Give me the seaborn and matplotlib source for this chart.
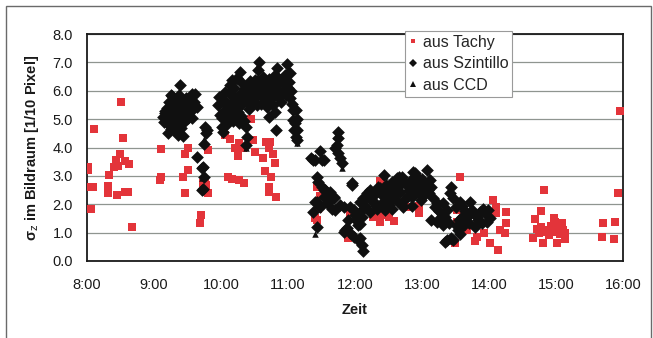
import matplotlib
matplotlib.use("Agg")
import matplotlib.pyplot as plt
from matplotlib.lines import Line2D
from matplotlib.patches import Rectangle
import seaborn as sns
import pandas as pd

# ---------------- data (time in decimal hours, sigma in 1/10 pixel) ----------------
tachy_t = [8.01, 8.02, 8.05, 8.09, 8.06, 8.10, 8.31, 8.32, 8.33, 8.41, 8.43, 8.45, 8.47, 8.49,
           8.51, 8.53, 8.56, 8.57, 8.61, 8.63, 8.67, 9.09, 9.11, 9.10, 9.44, 9.46, 9.47, 9.50,
           9.51, 9.69, 9.70, 9.76, 9.80, 9.80, 9.73, 9.78,
           10.06, 10.11, 10.17, 10.27, 10.34, 10.14, 10.21, 10.26, 10.27, 10.33, 10.45, 10.48,
           10.51, 10.63, 10.66, 10.67, 10.71, 10.71, 10.72, 10.73, 10.75, 10.78, 10.80, 10.82,
           11.43, 11.45, 11.43, 11.48, 11.40, 11.90, 11.93,
           12.27, 12.30, 12.37, 12.37, 12.45, 12.50, 12.58, 12.37, 12.80, 12.92, 12.95, 12.96,
           13.52, 13.52, 13.49, 13.57, 13.67, 13.79, 13.82, 13.92, 14.01, 14.06, 14.10, 14.11,
           14.13, 14.17, 14.24, 14.25, 14.26,
           14.66, 14.68, 14.78, 14.80, 14.82, 14.97, 14.99, 15.02, 15.09, 15.14,
           14.72, 14.75, 14.78, 14.82, 14.86, 14.90, 14.95, 15.00, 15.03, 15.06, 15.10, 15.13,
           14.92, 15.70, 15.69, 15.86, 15.88, 15.93, 15.95]
tachy_v = [3.20, 3.32, 2.62, 2.62, 1.84, 4.65, 2.64, 2.40, 3.02, 3.32, 3.56, 2.33, 3.35, 3.76,
           5.61, 4.32, 2.42, 3.52, 2.42, 3.42, 1.21, 2.86, 2.97, 3.94, 2.96, 3.77, 2.40, 4.00,
           3.20, 1.35, 1.61, 2.74, 2.38, 3.91, 2.74, 2.68,
           4.45, 2.97, 2.89, 2.85, 2.76, 4.30, 3.97, 3.71, 4.17, 4.00, 5.01, 4.26,
           3.85, 3.62, 3.17, 4.18, 4.00, 2.62, 2.42, 4.18, 2.97, 3.76, 3.44, 2.26,
           2.62, 1.85, 1.44, 2.30, 1.50, 0.80, 1.68,
           1.56, 1.68, 1.38, 1.62, 1.62, 1.55, 1.42, 2.82, 1.89, 2.38, 1.68, 1.95,
           1.80, 1.38, 0.62, 2.96, 1.09, 0.71, 0.86, 0.97, 0.65, 2.15, 1.68, 1.89,
           0.39, 1.09, 1.00, 1.35, 1.74,
           0.80, 1.48, 1.76, 0.65, 2.50, 1.50, 1.38, 0.62, 1.35, 0.76,
           1.12, 1.00, 1.19, 1.09, 1.03, 0.92, 1.12, 1.03, 1.19, 0.95, 1.09, 1.00,
           1.25, 1.35, 0.86, 0.76, 1.38, 2.40, 5.28]

szint_t = [9.39, 9.13, 9.15, 9.17, 9.19, 9.20, 9.21, 9.22, 9.23, 9.24, 9.25, 9.26, 9.27, 9.28,
           9.29, 9.30, 9.31, 9.32, 9.33, 9.34, 9.35, 9.36, 9.37, 9.38, 9.40, 9.41, 9.42, 9.43,
           9.44, 9.45, 9.47, 9.48, 9.50, 9.52, 9.55, 9.57, 9.60, 9.61, 9.64, 9.56, 9.25,
           9.16, 9.19, 9.22, 9.28, 9.33, 9.39, 9.46, 9.51, 9.54, 9.58,
           9.76, 9.79, 9.74, 9.64, 9.73, 9.74, 9.73, 9.77, 9.72, 9.72,
           9.97, 9.96, 9.99, 10.01, 10.03, 10.05, 10.06, 10.08, 10.10, 10.11, 10.13, 10.14,
           10.16, 10.17, 10.19, 10.20, 10.21, 10.23, 10.24, 10.26, 10.28, 10.29, 10.31, 10.32,
           10.34, 10.36, 10.38, 10.39, 10.37, 10.40, 10.42, 10.44, 10.45, 10.46, 10.48, 10.50,
           10.52, 10.53, 10.55, 10.57, 10.58, 10.60, 10.61, 10.62, 10.64, 10.66, 10.68, 10.69,
           10.71, 10.72, 10.74, 10.76, 10.77, 10.79, 10.81, 10.82, 10.83, 10.84, 10.86, 10.88,
           10.90, 10.93, 10.95, 10.97, 10.99, 11.01, 11.03, 11.03, 11.05, 11.08, 11.08, 11.09,
           11.12, 11.12, 11.13, 11.14, 11.13, 11.10, 11.06,
           10.02, 10.07, 10.12, 10.15, 10.18, 10.22, 10.27, 10.30, 10.35,
           10.41, 10.47, 10.51, 10.56, 10.59, 10.63, 10.67, 10.70, 10.73, 10.78, 10.80, 10.87,
           10.92, 10.04, 10.09, 10.25, 10.33, 10.43, 10.54, 10.65, 10.75, 10.85, 10.91, 10.96,
           11.00, 10.13, 10.49,
           11.34, 11.38, 11.40, 11.48, 11.50, 11.53, 11.74, 11.75, 11.73, 11.70, 11.75, 11.78,
           11.80, 11.43, 11.45, 11.50, 11.55, 11.60, 11.63, 11.53, 11.58, 11.43, 11.38, 11.43,
           11.48, 11.65, 11.70, 11.68, 11.78, 11.83, 11.53, 11.63, 11.68, 11.40, 11.95, 11.93,
           11.90, 11.88, 11.83, 11.93, 11.98, 12.05, 12.10, 12.12, 12.05, 12.00, 11.98, 11.85,
           12.07, 11.96,
           12.07, 12.07, 12.12, 12.15, 12.18, 12.22, 12.22, 12.25, 12.29, 12.30, 12.33, 12.35,
           12.37, 12.40, 12.42, 12.44, 12.47, 12.50, 12.52, 12.55, 12.57, 12.60, 12.62, 12.62,
           12.65, 12.67, 12.70, 12.70, 12.72, 12.74, 12.75, 12.77, 12.80, 12.83, 12.85, 12.87,
           12.88, 12.90, 12.92, 12.95, 12.97, 13.00, 13.02, 13.05, 13.07, 13.09, 13.12, 13.14,
           13.17, 13.19, 13.22, 13.14, 13.22, 13.27, 13.32, 13.37, 13.47, 13.34, 13.44, 13.30,
           13.25, 13.35, 13.40, 13.44, 13.42, 13.47, 13.57, 13.59, 13.72, 13.74, 13.67, 13.62,
           13.54, 13.82, 13.87, 13.94, 13.97, 13.89, 13.79, 13.37, 13.32, 13.91, 13.99, 14.01,
           13.50, 13.55, 13.60, 13.64, 13.70, 13.77, 13.84, 13.52, 13.57,
           12.02, 12.08, 12.10, 12.45, 12.55, 12.85, 12.17,
           12.27, 12.39, 12.48, 12.58, 12.68, 12.79, 12.93, 13.03, 13.10, 12.32, 12.63, 12.98]
szint_v = [6.20, 5.07, 4.90, 5.30, 5.40, 5.15, 4.50, 4.80, 5.60, 5.05, 4.65, 5.35, 5.80, 5.10,
           4.85, 5.50, 4.60, 5.25, 5.70, 4.95, 5.40, 4.45, 5.15, 5.85, 4.70, 5.45, 5.20, 4.40,
           5.65, 4.90, 5.35, 5.75, 5.05, 5.55, 5.30, 5.90, 5.60, 5.90, 5.43, 5.03, 5.85,
           5.20, 5.00, 5.20, 5.45, 5.05, 5.00, 5.10, 5.35, 5.70, 5.45,
           4.73, 4.61, 4.14, 3.67, 3.32, 2.97, 2.52, 4.50, 3.26, 2.50,
           5.79, 5.49, 5.14, 4.73, 4.55, 5.30, 5.95, 5.60, 4.90, 5.43, 4.96, 6.20,
           6.37, 5.80, 6.08, 5.20, 5.67, 5.02, 6.45, 5.26, 6.67, 5.90, 6.26, 5.55,
           6.05, 5.75, 4.73, 4.38, 4.08, 6.10, 5.35, 6.35, 5.49, 6.02, 5.70, 6.37,
           5.95, 5.50, 6.73, 7.02, 6.20, 6.14, 5.85, 6.50, 5.79, 6.30, 5.43, 6.00,
           5.08, 6.40, 5.70, 6.26, 5.95, 6.10, 5.26, 4.61, 5.80, 6.79, 6.00, 6.37,
           5.60, 5.96, 6.20, 5.85, 6.96, 6.30, 6.61, 5.73, 6.00, 4.96, 5.32, 4.61,
           5.32, 4.38, 4.61, 5.02, 4.26, 4.85, 5.55,
           5.05, 4.80, 5.15, 5.55, 4.95, 5.40, 4.85, 5.10, 4.95,
           5.60, 6.20, 5.75, 6.00, 5.55, 6.10, 5.90, 5.60, 6.15, 5.50, 6.55, 5.80,
           6.40, 5.65, 5.25, 5.75, 5.85, 5.90, 6.35, 5.65, 5.85, 6.25, 5.90, 6.55,
           6.10, 5.95, 5.95,
           3.62, 3.56, 3.56, 3.88, 3.56, 3.56, 4.55, 4.32, 4.08, 3.97, 3.79, 3.62,
           3.44, 2.97, 2.79, 2.62, 2.50, 2.38, 2.15, 2.26, 2.03, 2.09, 1.74, 1.21,
           1.91, 1.85, 1.80, 2.21, 1.97, 1.91, 2.50, 2.44, 2.26, 2.09, 2.68, 1.91,
           1.44, 1.15, 1.03, 0.97, 0.86, 0.74, 0.56, 0.35, 1.27, 1.62, 1.80, 1.09,
           0.80, 2.74,
           1.74, 2.09, 2.21, 1.95, 2.40, 2.50, 1.74, 2.10, 2.32, 2.03, 1.85, 2.60,
           2.56, 2.03, 2.30, 3.03, 2.68, 1.97, 2.45, 2.80, 2.21, 2.60, 2.91, 2.38,
           2.97, 2.44, 1.97, 2.97, 1.91, 2.20, 2.74, 2.68, 2.50, 2.85, 2.25, 3.15,
           2.60, 3.09, 2.97, 2.40, 2.62, 2.90, 2.30, 2.70, 3.20, 2.50, 2.85, 2.60,
           2.21, 1.91, 2.03, 1.44, 1.38, 1.50, 1.27, 0.74, 0.74, 0.68, 0.80, 1.65,
           1.75, 1.55, 1.35, 2.62, 2.38, 2.21, 2.09, 1.56, 2.09, 1.80, 1.56, 1.27,
           1.09, 1.56, 1.74, 1.68, 1.38, 1.33, 1.21, 1.80, 2.03, 1.85, 1.80, 1.50,
           1.90, 1.45, 1.95, 1.75, 1.35, 1.70, 1.45, 1.25, 0.95,
           1.45, 1.30, 1.55, 1.80, 1.85, 1.95, 2.26,
           2.35, 2.45, 2.25, 2.55, 2.70, 2.30, 2.70, 2.60, 2.40, 1.95, 2.10, 2.15]

ccd_t = [9.41, 9.30, 9.72, 9.74, 10.20, 10.55, 10.85, 11.00, 11.13, 11.41, 11.80, 11.72,
         11.55, 11.95, 12.10, 12.45, 12.90, 13.10, 13.45, 13.60, 10.38]
ccd_v = [5.38, 5.55, 2.91, 4.30, 6.35, 6.90, 6.60, 6.80, 4.15, 0.95, 3.26, 4.40,
         2.40, 2.85, 0.45, 3.00, 3.15, 3.00, 0.70, 1.20, 4.00]

x_ticks = [8, 9, 10, 11, 12, 13, 14, 15, 16]
x_labels = ["8:00", "9:00", "10:00", "11:00", "12:00", "13:00", "14:00", "15:00", "16:00"]
y_ticks = [0, 1, 2, 3, 4, 5, 6, 7, 8]
series_names = ["aus Tachy", "aus Szintillo", "aus CCD"]

RED = "#E3343A"
BLACK = "#101010"

sns.set_style("white")
plt.rcParams["font.family"] = ["Liberation Sans", "DejaVu Sans"]

fig = plt.figure(figsize=(6.53, 3.38), dpi=100)
ax = fig.add_axes([87 / 653, 1 - 261 / 338, (623 - 87) / 653, (261 - 34) / 338])

df_t = pd.DataFrame({"Zeit": tachy_t, "sigma": tachy_v})
df_s = pd.DataFrame({"Zeit": szint_t, "sigma": szint_v})
df_c = pd.DataFrame({"Zeit": ccd_t, "sigma": ccd_v})

sns.scatterplot(data=df_t, x="Zeit", y="sigma", ax=ax, marker="s", s=28, color=RED,
                linewidth=0, zorder=3, legend=False)
sns.scatterplot(data=df_s, x="Zeit", y="sigma", ax=ax, marker="D", s=42, color=BLACK,
                linewidth=0, zorder=4, legend=False)
sns.scatterplot(data=df_c, x="Zeit", y="sigma", ax=ax, marker="^", s=22, color=BLACK,
                linewidth=0, zorder=5, legend=False)

ax.set_xlim(8, 16)
ax.set_ylim(0, 8)
ax.set_xticks(x_ticks)
ax.set_xticklabels(x_labels)
ax.set_yticks(y_ticks)
ax.set_yticklabels([f"{v:.1f}" for v in y_ticks])
ax.yaxis.grid(True, color="#8f9590", linewidth=0.9)
ax.xaxis.grid(False)
ax.set_axisbelow(True)
for sp in ax.spines.values():
    sp.set_visible(True)
    sp.set_color("#1a1a1a")
    sp.set_linewidth(1.3)
ax.tick_params(axis="both", which="major", direction="out", length=4, width=1,
               color="#1a1a1a", labelsize=10.5, labelcolor="#1a1a1a")
ax.tick_params(axis="x", pad=8)
ax.tick_params(axis="y", pad=6)

ax.set_xlabel("Zeit", fontsize=10.5, fontweight="bold", labelpad=8, color="#1a1a1a")
ax.set_ylabel("σ$_\\mathrm{z}$ im Bildraum [1/10 Pixel]", fontsize=10.5,
              fontweight="bold", labelpad=8, color="#1a1a1a")

handles = [
    Line2D([], [], linestyle="none", marker="s", markersize=3.4, color=RED, markeredgewidth=0),
    Line2D([], [], linestyle="none", marker="D", markersize=4.5, color=BLACK, markeredgewidth=0),
    Line2D([], [], linestyle="none", marker="^", markersize=3.7, color=BLACK, markeredgewidth=0),
]
leg = fig.legend(handles, series_names, loc="upper left",
                 bbox_to_anchor=(405 / 653, 1 - 31 / 338), fontsize=11.5, frameon=True,
                 fancybox=False, edgecolor="#9a9a9a", framealpha=1, borderpad=0.25,
                 labelspacing=0.4, handlelength=0.55, handletextpad=0.3, borderaxespad=0)
leg.get_frame().set_linewidth(0.8)
leg.set_zorder(10)

fig.patches.append(Rectangle((6 / 653, -0.1), (651 - 6) / 653, 1.1 - 6 / 338,
                             transform=fig.transFigure, fill=False, edgecolor="#6a6a6a",
                             linewidth=1.0))

fig.savefig("out.png", dpi=100)
